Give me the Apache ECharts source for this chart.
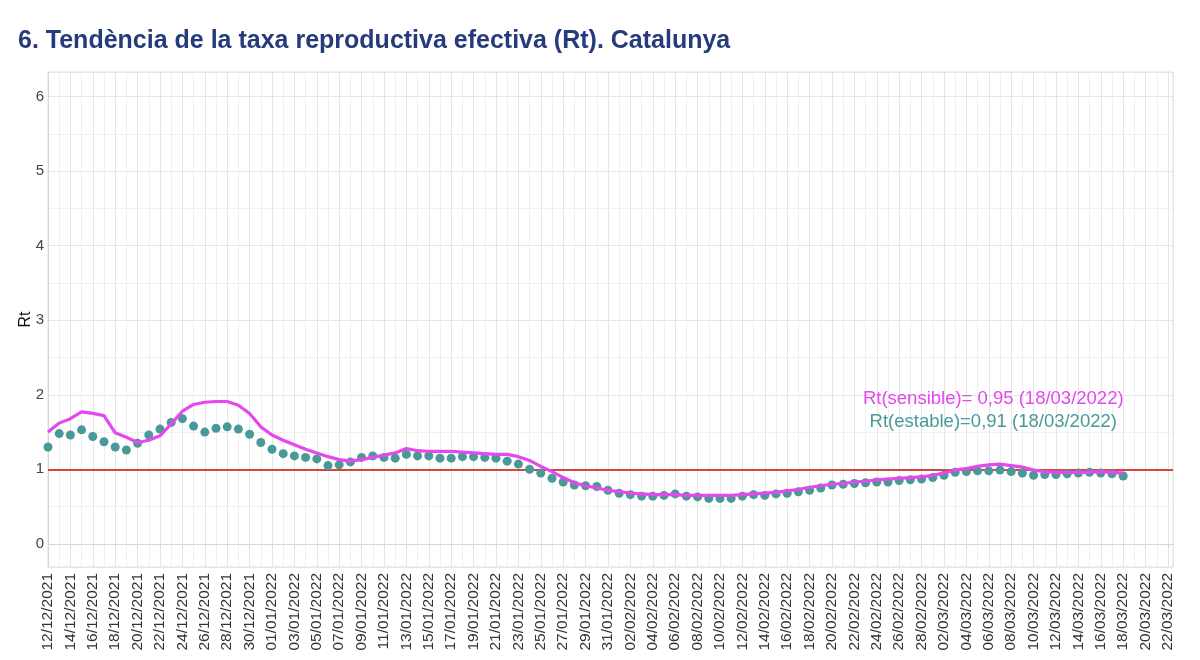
<!DOCTYPE html>
<html>
<head>
<meta charset="utf-8">
<script src="https://cdn.jsdelivr.net/npm/echarts@6/dist/echarts.min.js"></script>
<style>
  html, body { margin: 0; padding: 0; background: #ffffff; }
  #chart { width: 1200px; height: 660px; }
</style>
</head>
<body>
<div id="chart"></div>
<script>
// ---- DATA ----
const startDate = [2021, 12, 12];   // 12/12/2021
const dayCount = 101;               // axis runs to 22/03/2022

const rtEstable = [
  1.30, 1.48, 1.46, 1.53, 1.44, 1.37, 1.30, 1.26, 1.35, 1.46,
  1.54, 1.63, 1.68, 1.58, 1.50, 1.55, 1.57, 1.54, 1.47, 1.36,
  1.27, 1.21, 1.18, 1.16, 1.14, 1.05, 1.06, 1.10, 1.16, 1.18,
  1.16, 1.15, 1.20, 1.18, 1.18, 1.15, 1.15, 1.17, 1.17, 1.16,
  1.15, 1.11, 1.07, 1.00, 0.95, 0.88, 0.83, 0.79, 0.78, 0.77,
  0.72, 0.68, 0.66, 0.64, 0.64, 0.65, 0.67, 0.64, 0.63, 0.61,
  0.61, 0.61, 0.64, 0.66, 0.65, 0.67, 0.68, 0.70, 0.72, 0.75,
  0.79, 0.80, 0.81, 0.82, 0.83, 0.83, 0.85, 0.86, 0.87, 0.89,
  0.92, 0.96, 0.97, 0.98, 0.98, 0.99, 0.97, 0.95, 0.92, 0.93,
  0.93, 0.94, 0.95, 0.96, 0.95, 0.94, 0.91
];

const rtSensible = [
  1.50, 1.62, 1.68, 1.77, 1.75, 1.72, 1.49, 1.43, 1.36, 1.39,
  1.45, 1.61, 1.78, 1.87, 1.90, 1.91, 1.91, 1.86, 1.75, 1.57,
  1.46, 1.39, 1.33, 1.27, 1.22, 1.17, 1.13, 1.11, 1.13, 1.16,
  1.19, 1.22, 1.28, 1.25, 1.24, 1.24, 1.24, 1.23, 1.22, 1.21,
  1.20, 1.20, 1.17, 1.12, 1.04, 0.97, 0.89, 0.82, 0.78, 0.75,
  0.72, 0.70, 0.68, 0.67, 0.66, 0.66, 0.66, 0.65, 0.65, 0.65,
  0.65, 0.65, 0.66, 0.67, 0.68, 0.69, 0.71, 0.73, 0.76, 0.78,
  0.80, 0.81, 0.83, 0.84, 0.86, 0.87, 0.88, 0.89, 0.90, 0.92,
  0.95, 0.99, 1.01, 1.04, 1.06, 1.07, 1.05, 1.03, 0.99, 0.97,
  0.96, 0.96, 0.96, 0.96, 0.97, 0.96, 0.95
];

const yTickLabels = [0, 1, 2, 3, 4, 5, 6];
const yMinorLines = [0.5, 1.5, 2.5, 3.5, 4.5, 5.5];
const thresholdRt = 1;

// category dates (dd/mm/yyyy), one per day
const pad = n => (n < 10 ? '0' : '') + n;
const dates = [];
for (let i = 0; i < dayCount; i++) {
  const d = new Date(Date.UTC(startDate[0], startDate[1] - 1, startDate[2] + i));
  dates.push(pad(d.getUTCDate()) + '/' + pad(d.getUTCMonth() + 1) + '/' + d.getUTCFullYear());
}

// ---- CHART ----
const teal = '#4a9999';
const magenta = '#e448ee';
const fmt = v => v.toFixed(2).replace('.', ',');
const lastIdx = rtEstable.length - 1;
const labelSensible = 'Rt(sensible)= ' + fmt(rtSensible[lastIdx]) + ' (' + dates[lastIdx] + ')';
const labelEstable = 'Rt(estable)=' + fmt(rtEstable[lastIdx]) + ' (' + dates[lastIdx] + ')';

const chart = echarts.init(document.getElementById('chart'), null, { renderer: 'canvas' });

chart.setOption({
  animation: false,
  backgroundColor: '#ffffff',
  textStyle: { fontFamily: '"Liberation Sans", Arial, Helvetica, sans-serif' },
  title: {
    text: '6. Tendència de la taxa reproductiva efectiva (Rt). Catalunya',
    left: 18,
    top: 29,
    padding: 0,
    textStyle: { fontSize: 25, fontWeight: 'bold', color: '#253b7b',
      fontFamily: '"Liberation Sans", Arial, Helvetica, sans-serif' }
  },
  grid: {
    left: 48, right: 27, top: 72, bottom: 93,
    show: true, borderColor: '#e0e0e0', borderWidth: 1, backgroundColor: 'transparent'
  },
  xAxis: {
    type: 'value',
    min: 0,
    max: 100.45,
    interval: 2,
    axisLine: { show: true, lineStyle: { color: '#d6d6d6', width: 1 } },
    axisTick: { show: true, length: 4, lineStyle: { color: '#d6d6d6' } },
    axisLabel: {
      rotate: 90, fontSize: 15.5, color: '#333', margin: 6,
      showMaxLabel: false,
      formatter: v => (Number.isInteger(v) && dates[v]) ? dates[v] : ''
    },
    splitLine: { show: true, lineStyle: { color: '#e6e6e6', width: 1 } },
    minorTick: { show: false, splitNumber: 2 },
    minorSplitLine: { show: true, lineStyle: { color: '#efefef', width: 1 } }
  },
  yAxis: {
    type: 'value',
    min: -0.31,
    max: 6.33,
    name: 'Rt',
    nameLocation: 'middle',
    nameGap: 22,
    nameMoveOverlap: false,
    nameRotate: 90,
    nameTextStyle: { fontSize: 16, color: '#111', verticalAlign: 'middle' },
    axisLine: { show: true, lineStyle: { color: '#d6d6d6' } },
    axisTick: { show: false },
    axisLabel: {
      fontSize: 15, color: '#444', margin: 4,
      showMinLabel: false, showMaxLabel: false,
      formatter: v => yTickLabels.includes(v) ? String(v) : ''
    },
    splitLine: { show: true, lineStyle: { color: '#e6e6e6', width: 1 } }
  },
  series: [
    {
      // minor horizontal grid lines
      type: 'line', data: [], z: 0, silent: true,
      markLine: {
        z: 0, silent: true, symbol: ['none', 'none'], label: { show: false },
        lineStyle: { color: '#efefef', width: 1, type: 'solid' },
        data: yMinorLines.map(v => ({ yAxis: v }))
      }
    },
    {
      // reference line Rt = 1
      type: 'line', data: [], z: 1, silent: true,
      markLine: {
        z: 1, silent: true, symbol: ['none', 'none'], label: { show: false },
        lineStyle: { color: '#d4473c', width: 2, type: 'solid' },
        data: [{ yAxis: thresholdRt }]
      }
    },
    {
      name: 'Rt(estable)',
      type: 'scatter',
      z: 3,
      symbol: 'circle',
      symbolSize: 9,
      itemStyle: { color: teal, opacity: 1 },
      data: rtEstable.map((v, i) => [i, v]),
      markPoint: {
        silent: true,
        data: [{
          coord: [84.4, 1.64], symbol: 'circle', symbolSize: 1,
          itemStyle: { color: 'rgba(0,0,0,0)' },
          label: { show: true, position: 'inside', formatter: labelEstable,
            fontSize: 18.5, color: teal }
        }]
      }
    },
    {
      name: 'Rt(sensible)',
      type: 'line',
      z: 4,
      showSymbol: false,
      smooth: false,
      lineStyle: { color: magenta, width: 3.2 },
      itemStyle: { color: magenta },
      data: rtSensible.map((v, i) => [i, v]),
      markPoint: {
        silent: true,
        data: [{
          coord: [84.4, 1.94], symbol: 'circle', symbolSize: 1,
          itemStyle: { color: 'rgba(0,0,0,0)' },
          label: { show: true, position: 'inside', formatter: labelSensible,
            fontSize: 18.5, color: magenta }
        }]
      }
    }
  ]
});
</script>
</body>
</html>
